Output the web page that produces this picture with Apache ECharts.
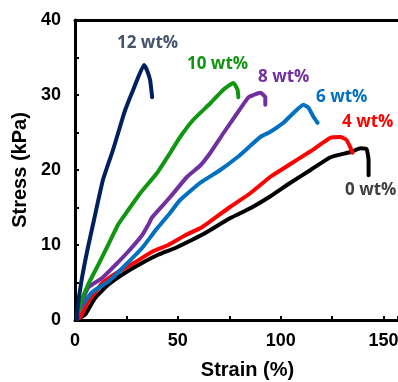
<!DOCTYPE html>
<html>
<head>
<meta charset="utf-8">
<script src="https://cdn.jsdelivr.net/npm/echarts@6/dist/echarts.min.js"></script>
<style>
  html, body { margin: 0; padding: 0; background: #fff; }
  #chart { width: 398px; height: 382px; }
</style>
</head>
<body>
<div id="chart"></div>
<script>
// strain (%) / stress (kPa)
const strain0 = [1, 4.9, 9.7, 16.1, 24.4, 32.6, 40.4, 48.7, 57, 63.3, 75.5, 85.2, 95, 104.7, 114.5, 124.2, 134, 138.8, 141.7, 142.7, 142.7]
const stress0 = [0.1, 0.7, 2.9, 4.7, 6.3, 7.6, 8.7, 9.6, 10.7, 11.6, 13.6, 14.9, 16.5, 18.3, 20, 21.7, 22.4, 22.9, 22.8, 21.3, 19.3]

const strain4 = [1, 2.4, 6.3, 13.2, 20.9, 29.2, 37.5, 45.3, 53.6, 61.9, 75.5, 85.2, 95, 104.7, 114.5, 124.2, 129, 132, 134, 134.9]
const stress4 = [0.1, 0.3, 2.4, 4.9, 6.4, 7.7, 9.1, 10, 11.3, 12.4, 15.1, 16.9, 19.1, 20.8, 22.5, 24.3, 24.4, 24, 22.9, 22.3]

const strain6 = [1, 1.5, 8.3, 16.1, 24.4, 32.6, 39, 46, 51.1, 60.9, 70.6, 78.9, 84.3, 90.1, 95, 101.3, 106.2, 111, 113.5, 115.9, 117.9]
const stress6 = [0.3, 1.1, 3.7, 5.1, 7.3, 9.6, 11.9, 14.2, 16, 18.3, 20, 21.7, 23, 24.4, 25.1, 26.3, 27.6, 28.7, 28.3, 27.1, 26.3]

const strain8 = [1, 1.5, 6.3, 13.2, 19.5, 25.8, 32.6, 35.6, 37.5, 46.3, 54.5, 60.9, 65.8, 72.1, 78.9, 84.3, 86.7, 90.1, 92.5, 92.5]
const stress8 = [0.3, 0.9, 4.3, 5.6, 7.3, 9.1, 11.3, 12.7, 13.7, 16.4, 19.1, 20.6, 22.3, 24.9, 27.6, 29.7, 30, 30.3, 29.7, 28.7]

const strain10 = [1, 2.4, 6.3, 11.2, 16.1, 20.9, 23.4, 31.7, 39.9, 46.3, 51.1, 57.5, 65.8, 72.1, 77, 79, 79.4]
const stress10 = [0.3, 2, 4.7, 7.3, 10, 12.7, 13.7, 16.9, 19.6, 22.3, 24.4, 26.7, 28.9, 30.7, 31.6, 30.7, 29.7]

const strain12 = [1, 1.2, 3.2, 6, 9.2, 13.6, 18.5, 22.9, 24.4, 28.3, 33.6, 35, 36.5, 37.5]
const stress12 = [0.1, 1.5, 5.3, 9.3, 13.3, 18.7, 22.7, 26.7, 28, 30.7, 34, 33.3, 32, 29.7]

const names = ['0 wt%', '4 wt%', '6 wt%', '8 wt%', '10 wt%', '12 wt%']
const lineColors = ['#000000', '#ff0000', '#0070c0', '#7030a0', '#109610', '#002060']
const labelColors = ['#404040', '#ff0000', '#0070c0', '#7030a0', '#109610', '#44546a']
const xTicks = [0, 50, 100, 150]
const yTicks = [0, 10, 20, 30, 40]

const curves = [
  [strain0, stress0], [strain4, stress4], [strain6, stress6],
  [strain8, stress8], [strain10, stress10], [strain12, stress12]
]

// label anchor boxes (pixels)
const labelPos = [
  [345, 182], [342, 114], [316, 89], [258, 69], [187, 56], [117, 35]
]

const chart = echarts.init(document.getElementById('chart'))

const font = 'Liberation Sans, Arial, sans-serif'

const option = {
  animation: false,
  grid: { left: 75, top: 20, right: 0, bottom: 62, outerBoundsMode: 'none', containLabel: false },
  xAxis: [
    {
      type: 'value', min: 0, max: 157, interval: 25,
      name: 'Strain (%)', nameLocation: 'middle', nameGap: 40,
      nameTextStyle: { fontFamily: font, fontWeight: 'bold', fontSize: 20, color: '#000', padding: [0, 0, 0, 22] },
      axisLine: { show: true, lineStyle: { color: '#000', width: 3 } },
      axisTick: { show: true, inside: true, length: 4, lineStyle: { color: '#000', width: 2 } },
      axisLabel: {
        margin: 12, fontFamily: font, fontWeight: 'bold', fontSize: 18, color: '#000',
        formatter: v => xTicks.includes(v) ? String(v) : ''
      },
      splitLine: { show: false }
    },
    {
      type: 'value', position: 'top', min: 0, max: 157,
      axisLine: { show: true, lineStyle: { color: '#000', width: 3 } },
      axisTick: { show: false }, axisLabel: { show: false }, splitLine: { show: false }
    }
  ],
  yAxis: {
    type: 'value', min: 0, max: 40, interval: 5,
    name: 'Stress (kPa)', nameLocation: 'middle', nameGap: 38,
    nameTextStyle: { fontFamily: font, fontWeight: 'bold', fontSize: 20, color: '#000' },
    axisLine: { show: true, lineStyle: { color: '#000', width: 3 } },
    axisTick: { show: true, inside: true, length: 4, lineStyle: { color: '#000', width: 2 } },
    axisLabel: {
      margin: 14, fontFamily: font, fontWeight: 'bold', fontSize: 18, color: '#000',
      formatter: v => yTicks.includes(v) ? String(v) : ''
    },
    splitLine: { show: false }
  },
  graphic: names.map((n, i) => ({
    type: 'text', left: labelPos[i][0], top: labelPos[i][1], z: 10,
    style: { text: n, fill: labelColors[i], font: 'bold 17px "Open Sans", sans-serif' }
  })),
  series: curves.map((c, i) => ({
    name: names[i],
    type: 'line',
    showSymbol: false,
    symbol: 'none',
    smooth: 0.15,
    data: c[0].map((x, k) => [x, c[1][k]]),
    lineStyle: { color: lineColors[i], width: 4, cap: 'round', join: 'round' },
    z: 2 + i
  }))
}

chart.setOption(option)
</script>
</body>
</html>
